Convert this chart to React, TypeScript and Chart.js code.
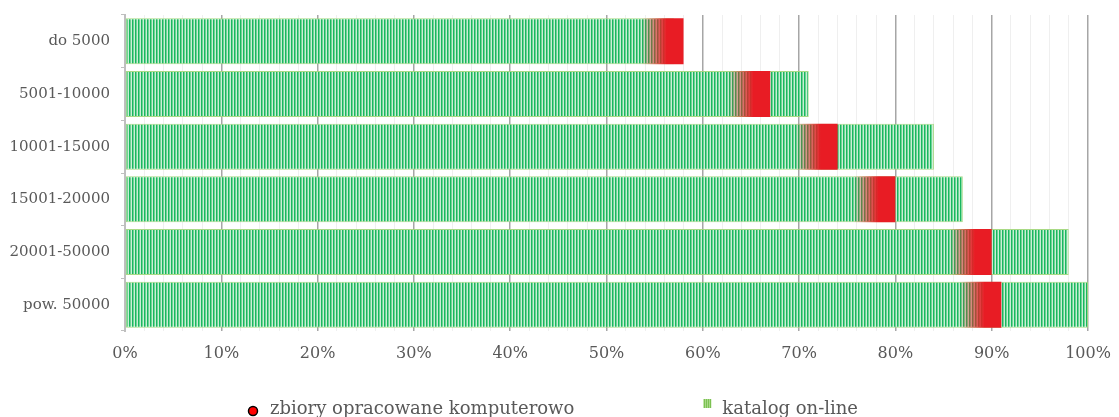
import { useEffect, useRef } from 'react';
import { Chart, registerables } from 'chart.js';

Chart.register(...registerables);

const categories = ['do 5000', '5001-10000', '10001-15000', '15001-20000', '20001-50000', 'pow. 50000'];
const zbioryValues = [58, 67, 74, 80, 90, 91];
const katalogValues = [57, 71, 84, 87, 98, 100];
const seriesLabels = ['zbiory opracowane komputerowo', 'katalog on-line'];
const axisMin = 0;
const axisMax = 100;
const minorStep = 2;
const majorStep = 10;

const TEXT = '#595959';
const FONT = '"DejaVu Serif", serif';
const RED = 'rgba(232,28,36,1)';
const RED0 = 'rgba(232,28,36,0)';

function makeStripePattern(ctx: CanvasRenderingContext2D, colors: string[]) {
  const pc = document.createElement('canvas');
  pc.width = colors.length;
  pc.height = 4;
  const p = pc.getContext('2d')!;
  colors.forEach((c, i) => {
    p.fillStyle = c;
    p.fillRect(i, 0, 1, 4);
  });
  return ctx.createPattern(pc, 'repeat')!;
}

export default function App() {
  const ref = useRef<HTMLCanvasElement | null>(null);

  useEffect(() => {
    const canvas = ref.current!;
    const ctx = canvas.getContext('2d')!;
    const greenPattern = makeStripePattern(ctx, ['#19b75f', '#6fd394', '#c9eed6']);
    const legendPattern = makeStripePattern(ctx, ['#7cc152', '#a9d98a']);

    const legendPlugin = {
      id: 'customLegend',
      afterDraw(chart: any) {
        const c = chart.ctx as CanvasRenderingContext2D;
        c.save();
        c.font = `18px ${FONT}`;
        c.fillStyle = TEXT;
        c.textBaseline = 'alphabetic';
        const baseY = 414;
        let x = 248;
        c.beginPath();
        c.arc(x + 5, 411, 4.5, 0, Math.PI * 2);
        c.fillStyle = '#ff0000';
        c.fill();
        c.lineWidth = 1.5;
        c.strokeStyle = '#000000';
        c.stroke();
        c.fillStyle = TEXT;
        c.fillText(seriesLabels[0], x + 22, baseY);
        const w1 = c.measureText(seriesLabels[0]).width;
        x = x + 22 + w1 + 129;
        c.fillStyle = legendPattern;
        c.fillRect(x, 399, 8, 9);
        c.fillStyle = TEXT;
        c.fillText(seriesLabels[1], x + 19, baseY);
        c.restore();
      },
    };

    const redFill = (c: any) => {
      const ch = c.chart;
      const xs = ch.scales?.x;
      if (!xs || c.dataIndex == null) return RED;
      const v = zbioryValues[c.dataIndex];
      const end = xs.getPixelForValue(v);
      if (!Number.isFinite(end)) return RED;
      const start = end - 42;
      const g = ch.ctx.createLinearGradient(start, 0, end, 0);
      g.addColorStop(0, RED0);
      g.addColorStop(0.6, RED);
      g.addColorStop(1, RED);
      return g;
    };

    const chart = new Chart(canvas, {
      type: 'bar',
      data: {
        labels: categories,
        datasets: [
          {
            label: seriesLabels[0],
            data: zbioryValues,
            grouped: false,
            categoryPercentage: 1,
            barPercentage: 0.873,
            borderWidth: 0,
            backgroundColor: redFill,
          } as any,
          {
            label: seriesLabels[1],
            data: katalogValues,
            grouped: false,
            categoryPercentage: 1,
            barPercentage: 0.873,
            backgroundColor: greenPattern,
            borderColor: 'rgba(160,214,120,0.9)',
            borderWidth: 1,
            borderSkipped: false,
          } as any,
        ],
      },
      options: {
        indexAxis: 'y',
        animation: false,
        responsive: true,
        maintainAspectRatio: false,
        layout: { padding: { top: 15, right: 31, left: 0, bottom: 0 } },
        plugins: {
          legend: { display: false },
          tooltip: { enabled: false },
        },
        scales: {
          x: {
            type: 'linear',
            min: axisMin,
            max: axisMax,
            afterFit: (s: any) => {
              s.height = 86;
              s.paddingLeft = 0;
              s.paddingRight = 0;
            },
            ticks: {
              stepSize: minorStep,
              autoSkip: false,
              maxRotation: 0,
              padding: 13,
              color: TEXT,
              font: { family: FONT, size: 16 },
              callback: (v: any) => (Number(v) % majorStep === 0 ? `${v}%` : ''),
            },
            grid: {
              drawTicks: false,
              lineWidth: (c: any) => (c.tick && c.tick.value % majorStep === 0 ? 1.5 : 1),
              color: (c: any) =>
                c.tick && c.tick.value % majorStep === 0 ? '#a6a6a6' : '#efefef',
            },
            border: { display: false },
          },
          y: {
            afterFit: (s: any) => {
              s.width = 125;
              s.paddingTop = 0;
              s.paddingBottom = 0;
            },
            ticks: {
              padding: 11,
              color: TEXT,
              font: { family: FONT, size: 15 },
            },
            grid: {
              offset: true,
              drawOnChartArea: false,
              drawTicks: true,
              tickLength: 4,
              color: '#bfbfbf',
            },
            border: { display: true, color: '#bfbfbf', width: 2 },
          },
        },
      },
      plugins: [legendPlugin],
    } as any);

    return () => chart.destroy();
  }, []);

  return (
    <div style={{ position: 'absolute', left: 0, top: 0, width: 1119, height: 417 }}>
      <canvas ref={ref} />
    </div>
  );
}
